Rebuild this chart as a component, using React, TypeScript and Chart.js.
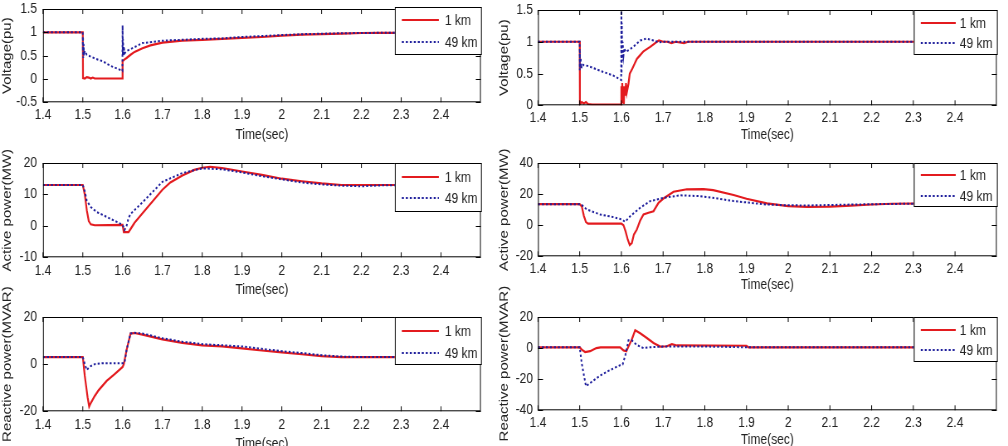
import React, { useEffect, useRef } from 'react';
import { Chart, registerables } from 'chart.js';

Chart.register(...registerables);

// ---------------- data ----------------
const X_TICKS = [1.4, 1.5, 1.6, 1.7, 1.8, 1.9, 2.0, 2.1, 2.2, 2.3, 2.4];
const SERIES_LABELS = ['1 km', '49 km'];

// Voltage (left)
const VL_RED_T = [1.4, 1.5, 1.5005, 1.505, 1.51, 1.515, 1.52, 1.525, 1.53, 1.56, 1.5995, 1.6, 1.605, 1.61, 1.62, 1.63, 1.65, 1.67, 1.7, 1.75, 1.8, 1.85, 1.9, 1.95, 2.0, 2.05, 2.1, 2.15, 2.2, 2.25, 2.35];
const VL_RED_Y = [1, 1, 0.02, 0.01, 0.04, 0.03, 0.01, 0.03, 0.01, 0.01, 0.01, 0.38, 0.42, 0.45, 0.52, 0.58, 0.66, 0.72, 0.78, 0.82, 0.84, 0.86, 0.88, 0.9, 0.93, 0.95, 0.96, 0.97, 0.985, 0.99, 0.99];
const VL_BLUE_T = [1.4, 1.5, 1.5002, 1.5006, 1.501, 1.502, 1.503, 1.505, 1.51, 1.52, 1.53, 1.55, 1.57, 1.59, 1.5995, 1.6, 1.6005, 1.601, 1.602, 1.603, 1.605, 1.61, 1.62, 1.65, 1.7, 1.75, 1.8, 1.85, 1.9, 1.95, 2.0, 2.05, 2.1, 2.15, 2.2, 2.25, 2.35];
const VL_BLUE_Y = [1, 1, 0.6, 0.9, 0.45, 0.75, 0.5, 0.6, 0.52, 0.48, 0.44, 0.38, 0.28, 0.21, 0.17, 1.15, 0.5, 0.85, 0.5, 0.7, 0.55, 0.6, 0.64, 0.77, 0.82, 0.84, 0.86, 0.87, 0.9, 0.92, 0.94, 0.96, 0.97, 0.98, 0.985, 0.99, 1];

// Voltage (right)
const VR_RED_T = [1.4, 1.5, 1.5005, 1.505, 1.51, 1.515, 1.52, 1.53, 1.5995, 1.6, 1.601, 1.602, 1.603, 1.604, 1.606, 1.607, 1.609, 1.611, 1.613, 1.617, 1.62, 1.625, 1.63, 1.637, 1.645, 1.653, 1.66, 1.669, 1.677, 1.685, 1.69, 1.7, 1.71, 1.72, 1.73, 1.75, 1.76, 2.35];
const VR_RED_Y = [1, 1, 0.02, 0.05, 0.03, 0.05, 0.02, 0.01, 0.01, 0.3, 0.05, 0.35, 0.1, 0.3, 0.02, 0.3, 0.15, 0.35, 0.2, 0.34, 0.5, 0.56, 0.63, 0.73, 0.79, 0.85, 0.88, 0.92, 0.96, 1.0, 1.02, 1.0, 1.0, 0.98, 1.0, 0.98, 1.0, 1.0];
const VR_BLUE_T = [1.4, 1.5, 1.5002, 1.5005, 1.501, 1.502, 1.504, 1.506, 1.51, 1.52, 1.55, 1.58, 1.5995, 1.6, 1.6005, 1.601, 1.602, 1.603, 1.605, 1.607, 1.61, 1.62, 1.63, 1.645, 1.66, 1.677, 1.69, 1.7, 2.35];
const VR_BLUE_Y = [1, 1, 0.55, 0.85, 0.6, 0.75, 0.58, 0.65, 0.63, 0.62, 0.54, 0.47, 0.4, 1.6, 0.5, 1.3, 0.7, 1.0, 0.78, 0.9, 0.84, 0.88, 0.93, 1.02, 1.05, 1.02, 0.99, 1.0, 1.0];

// Active power (left)
const PL_RED_T = [1.4, 1.5, 1.505, 1.51, 1.515, 1.52, 1.53, 1.6, 1.603, 1.615, 1.62, 1.63, 1.65, 1.7, 1.72, 1.75, 1.78, 1.8, 1.82, 1.85, 1.9, 1.95, 2.0, 2.05, 2.1, 2.15, 2.35];
const PL_RED_Y = [13, 13, 10, 5, 1.5, 0.5, 0.2, 0.3, -2, -2, -1, 1, 4, 11.5, 13.8, 16, 17.8, 18.5, 18.8, 18.4, 17.3, 16.2, 15, 14.2, 13.5, 13, 13];
const PL_BLUE_T = [1.4, 1.5, 1.505, 1.51, 1.52, 1.535, 1.55, 1.57, 1.59, 1.6, 1.605, 1.61, 1.615, 1.62, 1.65, 1.7, 1.75, 1.8, 1.85, 1.9, 1.95, 2.0, 2.05, 2.1, 2.15, 2.2, 2.25, 2.35];
const PL_BLUE_Y = [13, 13, 11, 8, 6, 4.4, 3.5, 2.2, 1, 0.3, -1.3, 0, 2.5, 3.8, 7.5, 14, 16.8, 18.3, 18, 17, 15.8, 14.8, 13.8, 13.2, 12.8, 12.6, 12.9, 13];

// Active power (right)
const PR_RED_T = [1.4, 1.5, 1.505, 1.51, 1.515, 1.52, 1.6, 1.605, 1.61, 1.615, 1.62, 1.625, 1.63, 1.637, 1.645, 1.653, 1.665, 1.677, 1.689, 1.7, 1.725, 1.757, 1.797, 1.82, 1.869, 1.9, 1.949, 2.0, 2.045, 2.1, 2.15, 2.2, 2.25, 2.35];
const PR_RED_Y = [13.5, 13.5, 12, 6, 2, 1, 1, 0, -4, -9, -12.8, -11.5, -6, -2.8, 3, 6.9, 8, 9, 14.4, 17, 21.5, 23.1, 23.2, 22.5, 19.4, 17, 14, 12.3, 11.8, 12, 12.6, 13.3, 13.8, 14];
const PR_BLUE_T = [1.4, 1.5, 1.505, 1.517, 1.549, 1.581, 1.601, 1.609, 1.621, 1.645, 1.669, 1.701, 1.741, 1.789, 1.83, 1.869, 1.949, 2.0, 2.05, 2.1, 2.2, 2.35];
const PR_BLUE_Y = [13.5, 13.5, 13, 10.1, 6.9, 5.2, 3.7, 2.2, 5.8, 11.2, 15.5, 17.6, 19.2, 18.7, 17.2, 15.5, 13.3, 12.8, 12.7, 13, 13.5, 14];

// Reactive power (left)
const QL_RED_T = [1.4, 1.5, 1.505, 1.512, 1.516, 1.52, 1.53, 1.54, 1.56, 1.58, 1.6, 1.603, 1.61, 1.62, 1.63, 1.65, 1.7, 1.75, 1.8, 1.85, 1.9, 1.95, 2.0, 2.05, 2.1, 2.15, 2.35];
const QL_RED_Y = [3, 3, -5, -14, -18, -16.5, -13.5, -11, -7.1, -4.2, -1.2, 0, 6, 13, 13.2, 12.5, 10.5, 9, 8, 7.5, 6.7, 5.8, 5, 4.2, 3.4, 3, 3];
const QL_BLUE_T = [1.4, 1.5, 1.505, 1.51, 1.515, 1.52, 1.53, 1.55, 1.6, 1.605, 1.61, 1.62, 1.63, 1.65, 1.7, 1.75, 1.8, 1.85, 1.9, 1.95, 2.0, 2.05, 2.1, 2.15, 2.2, 2.35];
const QL_BLUE_Y = [3, 3, 0, -2.5, -1.5, -0.8, 0, 0.4, 0.4, 0.6, 6, 13, 13.3, 13, 11, 9.5, 8.5, 8, 7.5, 6.5, 5.5, 4.7, 3.8, 3.2, 3, 3];

// Reactive power (right)
const QR_RED_T = [1.4, 1.5, 1.505, 1.513, 1.525, 1.54, 1.55, 1.597, 1.605, 1.612, 1.617, 1.625, 1.633, 1.645, 1.661, 1.677, 1.693, 1.709, 1.721, 1.733, 1.9, 1.905, 2.35];
const QR_RED_Y = [0.5, 0.5, -1, -2.5, -2, 0, 0.5, 0.5, -1.5, -2, 1, 5.5, 11.5, 9.5, 6.5, 3.3, 1, 1.2, 2.5, 1.7, 1.5, 0.5, 0.5];
const QR_BLUE_T = [1.4, 1.5, 1.505, 1.515, 1.52, 1.53, 1.55, 1.57, 1.597, 1.603, 1.61, 1.617, 1.625, 1.637, 1.653, 1.665, 1.7, 1.8, 1.85, 1.9, 2.35];
const QR_BLUE_Y = [0.5, 0.5, -10, -24.5, -23.5, -21.5, -17.5, -14.5, -11, -10.5, -4, 5, 5, 2, 0, 0.5, 1, 1, 0.8, 0.5, 0.5];

// ---------------- styling / layout ----------------
const RED = '#e31b1f';
const BLUE = '#1f1f9c';
const TEXT = '#222222';
const FONT = '"Liberation Sans", Arial, sans-serif';
const TICK_SIZE = 14.5;
const PAD_TOP = 60;
const SX = 0.83; // horizontal squeeze of the whole figure

type Leg = { x: number; y: number; w: number; h: number; r1: number; r2: number; s0: number; s1: number; tx: number };
type PanelCfg = {
  L: number; T: number; R: number; B: number;
  ymin: number; ymax: number; yTicks: number[]; ytitle: string;
  red: [number[], number[]]; blue: [number[], number[]];
  cx: number; cw: number; yPad: number; xPad: number; titleC: number; leg: Leg;
};

const LEFT_CANVAS = { cx: 0, cw: 492, yPad: 6 };
const RIGHT_CANVAS = { cx: 497, cw: 511, yPad: 5 };

const PANELS: PanelCfg[] = [
  { L: 43, T: 9, R: 481, B: 102, ymin: -0.5, ymax: 1.5, yTicks: [-0.5, 0, 0.5, 1, 1.5], ytitle: 'Voltage(pu)',
    red: [VL_RED_T, VL_RED_Y], blue: [VL_BLUE_T, VL_BLUE_Y], ...LEFT_CANVAS, xPad: 3.5, titleC: 135,
    leg: { x: 395, y: 7, w: 87, h: 48, r1: 13, r2: 35, s0: 7, s1: 44, tx: 50 } },
  { L: 538, T: 10, R: 997, B: 105, ymin: 0, ymax: 1.5, yTicks: [0, 0.5, 1, 1.5], ytitle: 'Voltage(pu)',
    red: [VR_RED_T, VR_RED_Y], blue: [VR_BLUE_T, VR_BLUE_Y], ...RIGHT_CANVAS, xPad: 3.5, titleC: 135,
    leg: { x: 914, y: 10, w: 84, h: 45, r1: 13, r2: 33, s0: 7, s1: 42, tx: 46 } },
  { L: 43, T: 163, R: 481, B: 257, ymin: -10, ymax: 20, yTicks: [-10, 0, 10, 20], ytitle: 'Active power(MW)',
    red: [PL_RED_T, PL_RED_Y], blue: [PL_BLUE_T, PL_BLUE_Y], ...LEFT_CANVAS, xPad: 5, titleC: 290,
    leg: { x: 395, y: 163, w: 87, h: 49, r1: 14, r2: 35, s0: 7, s1: 44, tx: 50 } },
  { L: 538, T: 163, R: 997, B: 256, ymin: -20, ymax: 40, yTicks: [-20, 0, 20, 40], ytitle: 'Active power(MW)',
    red: [PR_RED_T, PR_RED_Y], blue: [PR_BLUE_T, PR_BLUE_Y], ...RIGHT_CANVAS, xPad: 3.5, titleC: 285,
    leg: { x: 914, y: 163, w: 84, h: 44, r1: 12, r2: 33, s0: 7, s1: 42, tx: 46 } },
  { L: 43, T: 317, R: 481, B: 411, ymin: -20, ymax: 20, yTicks: [-20, 0, 20], ytitle: 'Reactive power(MVAR)',
    red: [QL_RED_T, QL_RED_Y], blue: [QL_BLUE_T, QL_BLUE_Y], ...LEFT_CANVAS, xPad: 4.5, titleC: 444,
    leg: { x: 395, y: 317, w: 87, h: 48, r1: 14, r2: 36, s0: 7, s1: 44, tx: 50 } },
  { L: 538, T: 317, R: 997, B: 410, ymin: -40, ymax: 20, yTicks: [-40, -20, 0, 20], ytitle: 'Reactive power(MVAR)',
    red: [QR_RED_T, QR_RED_Y], blue: [QR_BLUE_T, QR_BLUE_Y], ...RIGHT_CANVAS, xPad: 3.5, titleC: 440,
    leg: { x: 914, y: 317, w: 84, h: 45, r1: 13, r2: 33, s0: 7, s1: 42, tx: 46 } },
];

const pts = (t: number[], y: number[]) => t.map((x, i) => ({ x, y: y[i] }));
const fmt = (v: number | string) => String(Number(Number(v).toFixed(2)));

function Panel({ cfg }: { cfg: PanelCfg }) {
  const ref = useRef<HTMLCanvasElement>(null);
  const lh = TICK_SIZE * 1.2;
  const xh = cfg.titleC - cfg.B + lh / 2;
  const cy = cfg.T - PAD_TOP;
  const ch = Math.round(PAD_TOP + (cfg.B - cfg.T) + xh);
  const iw = Math.round(cfg.cw / SX); // internal canvas width
  const yw = (cfg.L - cfg.cx) / SX;
  const padRight = iw - (cfg.R - cfg.cx) / SX;

  useEffect(() => {
    const canvas = ref.current!;
    const frame = {
      id: 'frame',
      afterDraw(chart: any) {
        const { ctx, chartArea, scales } = chart;
        const { left, right, top, bottom } = chartArea;
        ctx.save();
        ctx.strokeStyle = '#000';
        ctx.lineWidth = 1;
        ctx.strokeRect(left + 0.5, top + 0.5, right - left - 1, bottom - top - 1);
        const tlv = 5;
        const tlh = 5 / SX;
        ctx.beginPath();
        X_TICKS.forEach((v) => {
          const p = scales.x.getPixelForValue(v);
          ctx.moveTo(p, bottom); ctx.lineTo(p, bottom - tlv);
          ctx.moveTo(p, top); ctx.lineTo(p, top + tlv);
        });
        cfg.yTicks.forEach((v) => {
          const p = Math.round(scales.y.getPixelForValue(v)) + 0.5;
          ctx.moveTo(left, p); ctx.lineTo(left + tlh, p);
          ctx.moveTo(right, p); ctx.lineTo(right - tlh, p);
        });
        ctx.stroke();

        // legend
        const lg = cfg.leg;
        const bx = (lg.x - cfg.cx) / SX;
        const by = lg.y - cy;
        const bw = lg.w / SX;
        ctx.fillStyle = '#fff';
        ctx.fillRect(bx, by, bw, lg.h);
        ctx.strokeStyle = '#000';
        ctx.lineWidth = 1;
        ctx.strokeRect(bx + 0.5, by + 0.5, bw - 1, lg.h - 1);
        [lg.r1, lg.r2].forEach((r, i) => {
          const yy = by + r;
          ctx.beginPath();
          ctx.lineWidth = 2;
          ctx.strokeStyle = i === 0 ? RED : BLUE;
          ctx.setLineDash(i === 0 ? [] : [2.4, 2.4]);
          ctx.moveTo(bx + lg.s0 / SX, yy);
          ctx.lineTo(bx + lg.s1 / SX, yy);
          ctx.stroke();
          ctx.setLineDash([]);
          ctx.fillStyle = TEXT;
          ctx.font = `${TICK_SIZE}px ${FONT}`;
          ctx.textBaseline = 'middle';
          ctx.textAlign = 'left';
          ctx.fillText(SERIES_LABELS[i], bx + lg.tx / SX, yy + 1);
        });
        ctx.restore();
      },
    };

    const chart = new Chart(canvas, {
      type: 'line',
      data: {
        datasets: [
          { label: SERIES_LABELS[0], data: pts(cfg.red[0], cfg.red[1]), borderColor: RED, borderWidth: 2.2,
            pointRadius: 0, fill: false, tension: 0, order: 1 },
          { label: SERIES_LABELS[1], data: pts(cfg.blue[0], cfg.blue[1]), borderColor: BLUE, borderWidth: 2,
            borderDash: [2.4, 2.4], pointRadius: 0, fill: false, tension: 0, order: 0 },
        ],
      },
      options: {
        animation: false,
        responsive: false,
        devicePixelRatio: 1,
        layout: { padding: { top: PAD_TOP, right: padRight, left: 0, bottom: 0 } },
        plugins: { legend: { display: false }, tooltip: { enabled: false } },
        scales: {
          x: {
            type: 'linear', min: 1.4, max: 2.5,
            afterBuildTicks: (s: any) => { s.ticks = X_TICKS.map((v) => ({ value: v })); },
            afterFit: (s: any) => { s.height = xh; },
            grid: { display: false, drawTicks: false }, border: { display: false },
            ticks: { callback: (v: any) => fmt(v), font: { family: FONT, size: TICK_SIZE }, color: TEXT,
              padding: cfg.xPad, maxRotation: 0, autoSkip: false },
            title: { display: true, text: 'Time(sec)', font: { family: FONT, size: TICK_SIZE }, color: TEXT, padding: 0 },
          },
          y: {
            type: 'linear', min: cfg.ymin, max: cfg.ymax,
            afterBuildTicks: (s: any) => { s.ticks = cfg.yTicks.map((v) => ({ value: v })); },
            afterFit: (s: any) => { s.width = yw; },
            grid: { display: false, drawTicks: false }, border: { display: false },
            ticks: { callback: (v: any) => fmt(v), font: { family: FONT, size: TICK_SIZE }, color: TEXT,
              padding: cfg.yPad / SX, autoSkip: false },
            title: { display: true, text: cfg.ytitle, font: { family: FONT, size: 15 }, color: TEXT, padding: 0 },
          },
        },
      } as any,
      plugins: [frame],
    });
    return () => chart.destroy();
  }, []);

  return (
    <canvas
      ref={ref}
      width={iw}
      height={ch}
      style={{ position: 'absolute', left: cfg.cx, top: cy, width: cfg.cw, height: ch }}
    />
  );
}

export default function App() {
  return (
    <div style={{ position: 'absolute', left: 0, top: 0, width: 1008, height: 446, overflow: 'hidden', background: '#fff' }}>
      {PANELS.map((p, i) => <Panel key={i} cfg={p} />)}
    </div>
  );
}
